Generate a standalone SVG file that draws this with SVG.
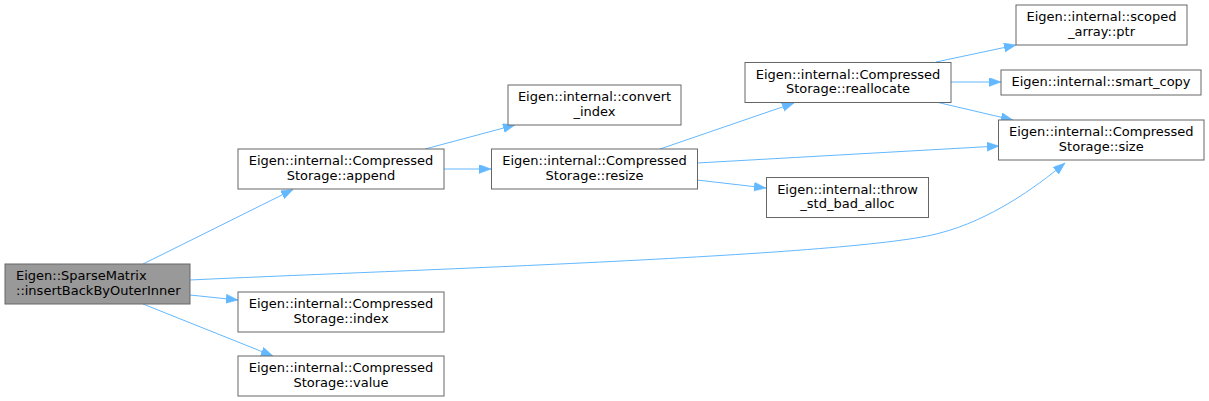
<svg xmlns="http://www.w3.org/2000/svg" width="1209" height="401" viewBox="0 0 1209 401">
<style>
.n rect{fill:#ffffff;stroke:#666666;stroke-width:1}
#main rect{fill:#999999;stroke:#666666}
text{font-family:"DejaVu Sans","Liberation Sans",sans-serif;font-size:13px;fill:#000000}
.c{text-anchor:middle}
.e path{fill:none;stroke:#63b8ff;stroke-width:1}
</style>
<defs>
<marker id="ah" markerUnits="userSpaceOnUse" markerWidth="13" markerHeight="10" refX="12" refY="4.5" orient="auto">
<path d="M0,0 L12,4.5 L0,9 z" fill="#63b8ff" stroke="#63b8ff" stroke-width="0.5"/>
</marker>
</defs>
<rect width="1209" height="401" fill="#ffffff"/>
<g class="e">
<path d="M143,264 L293,189.5" marker-end="url(#ah)"/>
<path d="M190,280 C400,270 860,256 940,233 C990,220 1035,188 1065,163" marker-end="url(#ah)"/>
<path d="M190,295 L238,300" marker-end="url(#ah)"/>
<path d="M143,304 L273,356" marker-end="url(#ah)"/>
<path d="M425,149 L515,125" marker-end="url(#ah)"/>
<path d="M444,169 L491,169" marker-end="url(#ah)"/>
<path d="M660,149 L794,103" marker-end="url(#ah)"/>
<path d="M697,163 L999,146" marker-end="url(#ah)"/>
<path d="M697,180 L766,188" marker-end="url(#ah)"/>
<path d="M936,62 L1016,45" marker-end="url(#ah)"/>
<path d="M950,82 L1001,82" marker-end="url(#ah)"/>
<path d="M936,102 L1013,120" marker-end="url(#ah)"/>
</g>
<g id="main" class="n"><rect x="5" y="264" width="185" height="40"/><text x="16" y="280">Eigen::SparseMatrix</text><text x="16" y="294.5">::insertBackByOuterInner</text></g>
<g id="append" class="n"><rect x="238" y="149" width="206" height="40"/><text class="c" x="341" y="165">Eigen::internal::Compressed</text><text class="c" x="341" y="179.5">Storage::append</text></g>
<g id="index" class="n"><rect x="238" y="292" width="206" height="40"/><text class="c" x="341" y="308">Eigen::internal::Compressed</text><text class="c" x="341" y="322.5">Storage::index</text></g>
<g id="value" class="n"><rect x="238" y="356" width="206" height="40"/><text class="c" x="341" y="372">Eigen::internal::Compressed</text><text class="c" x="341" y="386.5">Storage::value</text></g>
<g id="convert_index" class="n"><rect x="508" y="85" width="173" height="40"/><text class="c" x="594.5" y="101">Eigen::internal::convert</text><text class="c" x="594.5" y="115.5">_index</text></g>
<g id="resize" class="n"><rect x="491.5" y="149" width="206" height="40"/><text class="c" x="594.5" y="165">Eigen::internal::Compressed</text><text class="c" x="594.5" y="179.5">Storage::resize</text></g>
<g id="reallocate" class="n"><rect x="745" y="62.5" width="206" height="40"/><text class="c" x="848" y="78.5">Eigen::internal::Compressed</text><text class="c" x="848" y="93">Storage::reallocate</text></g>
<g id="throw" class="n"><rect x="766.5" y="177.5" width="162" height="40"/><text class="c" x="847.5" y="193.5">Eigen::internal::throw</text><text class="c" x="847.5" y="208">_std_bad_alloc</text></g>
<g id="ptr" class="n"><rect x="1016" y="5" width="171" height="40"/><text class="c" x="1101.5" y="21">Eigen::internal::scoped</text><text class="c" x="1101.5" y="35.5">_array::ptr</text></g>
<g id="smart_copy" class="n"><rect x="1001" y="70" width="200" height="25"/><text class="c" x="1101" y="86">Eigen::internal::smart_copy</text></g>
<g id="size" class="n"><rect x="998.5" y="120" width="205.5" height="40"/><text class="c" x="1101.25" y="136">Eigen::internal::Compressed</text><text class="c" x="1101.25" y="150.5">Storage::size</text></g>
</svg>
